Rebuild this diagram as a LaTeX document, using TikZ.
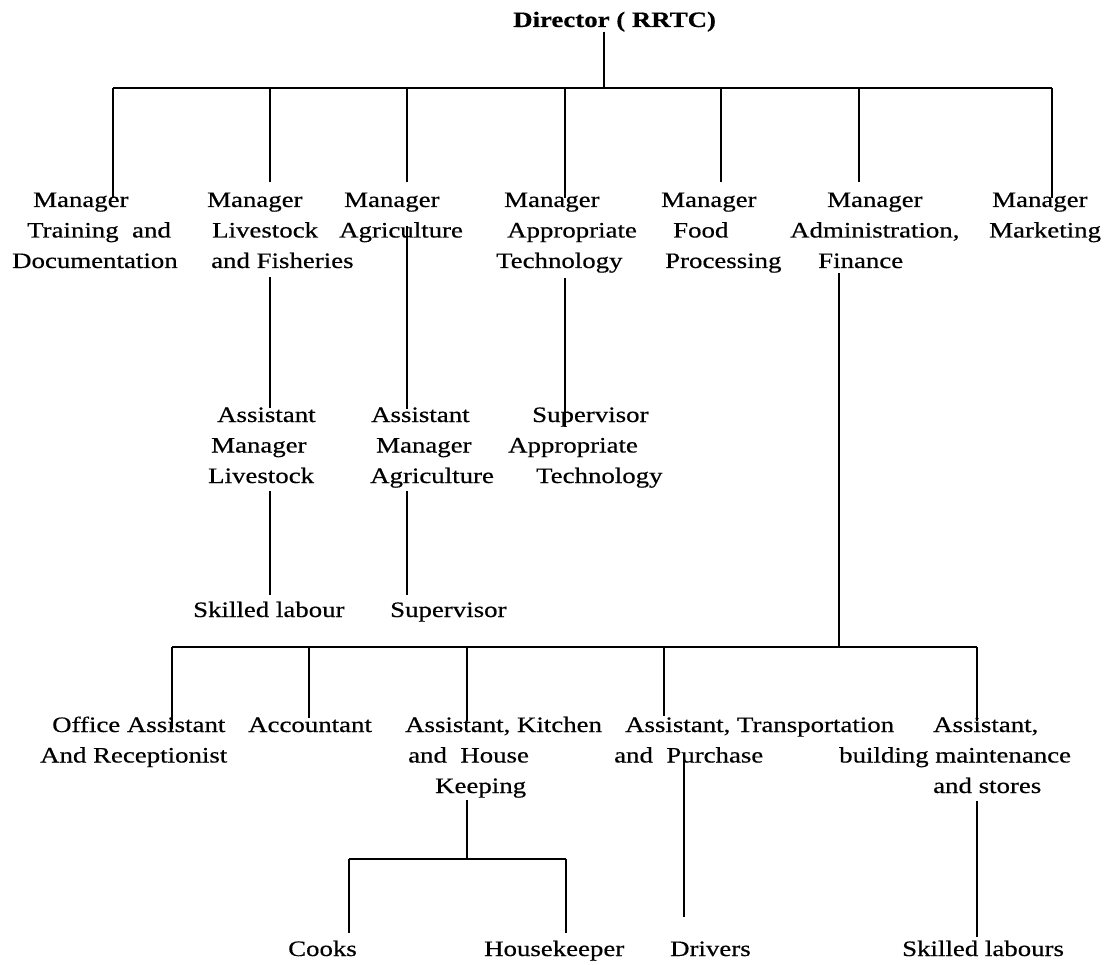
\documentclass[tikz,border=0pt]{standalone}
\usepackage{fontspec}
\setmainfont{Liberation Serif}[FakeStretch=1.22,FakeBold=0.5]
\usetikzlibrary{calc}
\newcommand\Ln[2]{\hbox{\kern#1pt #2}}
\begin{document}
\begin{tikzpicture}[x=1pt,y=-1pt,
  lbl/.style={inner sep=0pt, anchor=base west, font=\fontsize{22}{30.5}\selectfont},
  conn/.style={line width=1.7pt, line cap=butt}]
\useasboundingbox[fill=white] (0,0) rectangle (1110,965);

% ---- texts ----
\node[lbl, font=\fontsize{22}{30.5}\selectfont\bfseries] (dir) at (513,27) {Director ( RRTC)};

\node[lbl] (m1) at (12,207) {\vtop{\Ln{21}{Manager}\Ln{15}{Training\ \ and}\Ln{0}{Documentation}}};
\node[lbl] (m2) at (207,207) {\vtop{\Ln{0}{Manager}\Ln{5}{Livestock}\Ln{4}{and Fisheries}}};
\node[lbl] (m3) at (339,207) {\vtop{\Ln{5}{Manager}\Ln{0}{Agriculture}}};
\node[lbl] (m4) at (496,207) {\vtop{\Ln{8}{Manager}\Ln{11}{Appropriate}\Ln{0}{Technology}}};
\node[lbl] (m5) at (661,207) {\vtop{\Ln{0}{Manager}\Ln{12}{Food}\Ln{4}{Processing}}};
\node[lbl] (m6) at (790,207) {\vtop{\Ln{37}{Manager}\Ln{0}{Administration,}\Ln{28}{Finance}}};
\node[lbl] (m7) at (989,207) {\vtop{\Ln{3}{Manager}\Ln{0}{Marketing}}};

\node[lbl] (a1) at (208,422) {\vtop{\Ln{9}{Assistant}\Ln{3}{Manager}\Ln{0}{Livestock}}};
\node[lbl] (a2) at (370,422) {\vtop{\Ln{1}{Assistant}\Ln{6}{Manager}\Ln{0}{Agriculture}}};
\node[lbl] (a3) at (508,422) {\vtop{\Ln{24}{Supervisor}\Ln{0}{Appropriate}\Ln{28}{Technology}}};

\node[lbl] (s1) at (193,617) {Skilled labour};
\node[lbl] (s2) at (390,617) {Supervisor};

\node[lbl] (b1) at (40,732) {\vtop{\Ln{12}{Office Assistant}\Ln{0}{And Receptionist}}};
\node[lbl] (b2) at (248,732) {Accountant};
\node[lbl] (b3) at (405,732) {\vtop{\Ln{0}{Assistant, Kitchen}\Ln{3}{and\ \ House}\Ln{30}{Keeping}}};
\node[lbl] (b4) at (614,732) {\vtop{\Ln{11}{Assistant, Transportation}\Ln{0}{and\ \ Purchase}}};
\node[lbl] (b5) at (839,732) {\vtop{\Ln{94}{Assistant,}\Ln{0}{building maintenance}\Ln{94}{and stores}}};

\node[lbl] (c1) at (288,956) {Cooks};
\node[lbl] (c2) at (484,956) {Housekeeper};
\node[lbl] (c3) at (670,956) {Drivers};
\node[lbl] (c4) at (902,956) {Skilled labours};

% ---- junctions ----
\coordinate (j0) at (604,88);
\coordinate (d1) at (113,88);
\coordinate (d2) at (270,88);
\coordinate (d3) at (407,88);
\coordinate (d4) at (565,88);
\coordinate (d5) at (721,88);
\coordinate (d6) at (859,88);
\coordinate (d7) at (1052,88);
\coordinate (j2) at (839,647);
\coordinate (e1) at (172,647);
\coordinate (e2) at (309,647);
\coordinate (e3) at (467,647);
\coordinate (e4) at (664,647);
\coordinate (e5) at (977,647);
\coordinate (j3) at (467,859);
\coordinate (k1) at (349,859);
\coordinate (k2) at (566,859);

% ---- connectors ----
\draw[conn] (j0 |- dir.south) -- (j0);
\draw[conn] (d1) -- (d7);
\draw[conn] (d1) -- ($(d1 |- m1.north)+(0,-6pt)$);
\draw[conn] (d2) -- ($(d2 |- m2.north)+(0,10pt)$);
\draw[conn] (d3) -- ($(d3 |- m3.north)+(0,10pt)$);
\draw[conn] (d4) -- ($(d4 |- m4.north)+(0,-6pt)$);
\draw[conn] (d5) -- ($(d5 |- m5.north)+(0,10pt)$);
\draw[conn] (d6) -- ($(d6 |- m6.north)+(0,10pt)$);
\draw[conn] (d7) -- ($(d7 |- m7.north)+(0,-6pt)$);

\draw[conn] ($(d2 |- m2.south)+(0,-9pt)$) -- ($(d2 |- a1.north)+(0,-1pt)$);
\draw[conn] ($(d3 |- m3.south)+(0,16pt)$) -- ($(d3 |- a2.north)+(0,-2pt)$);
\draw[conn] ($(d4 |- m4.south)+(0,-5pt)$) -- ($(d4 |- a3.north)+(0,-20pt)$);
\draw[conn] ($(j2 |- m6.south)+(0,-5pt)$) -- (j2);

\draw[conn] ($(d2 |- a1.south)+(0,-8pt)$) -- ($(d2 |- s1.north)+(0,7pt)$);
\draw[conn] ($(d3 |- a2.south)+(0,-3pt)$) -- ($(d3 |- s2.north)+(0,7pt)$);

\draw[conn] (e1) -- (e5);
\draw[conn] (e1) -- ($(e1 |- b1.north)+(0,-13pt)$);
\draw[conn] (e2) -- ($(e2 |- b2.north)+(0,-1pt)$);
\draw[conn] (e3) -- ($(e3 |- b3.north)+(0,-4pt)$);
\draw[conn] (e4) -- ($(e4 |- b4.north)+(0,1pt)$);
\draw[conn] (e5) -- ($(e5 |- b5.north)+(0,-4pt)$);

\draw[conn] ($(j3 |- b3.south)+(0,-2pt)$) -- (j3);
\draw[conn] (k1) -- (k2);
\draw[conn] (k1) -- ($(k1 |- c1.north)+(0,8pt)$);
\draw[conn] (k2) -- ($(k2 |- c2.north)+(0,8pt)$);
\draw[conn] ($(684,0 |- b4.south)+(0,8pt)$) coordinate (dv) -- ($(dv |- c3.north)+(0,24pt)$);
\draw[conn] ($(e5 |- b5.south)+(0,-8pt)$) -- ($(e5 |- c4.north)+(0,4pt)$);
\end{tikzpicture}
\end{document}
